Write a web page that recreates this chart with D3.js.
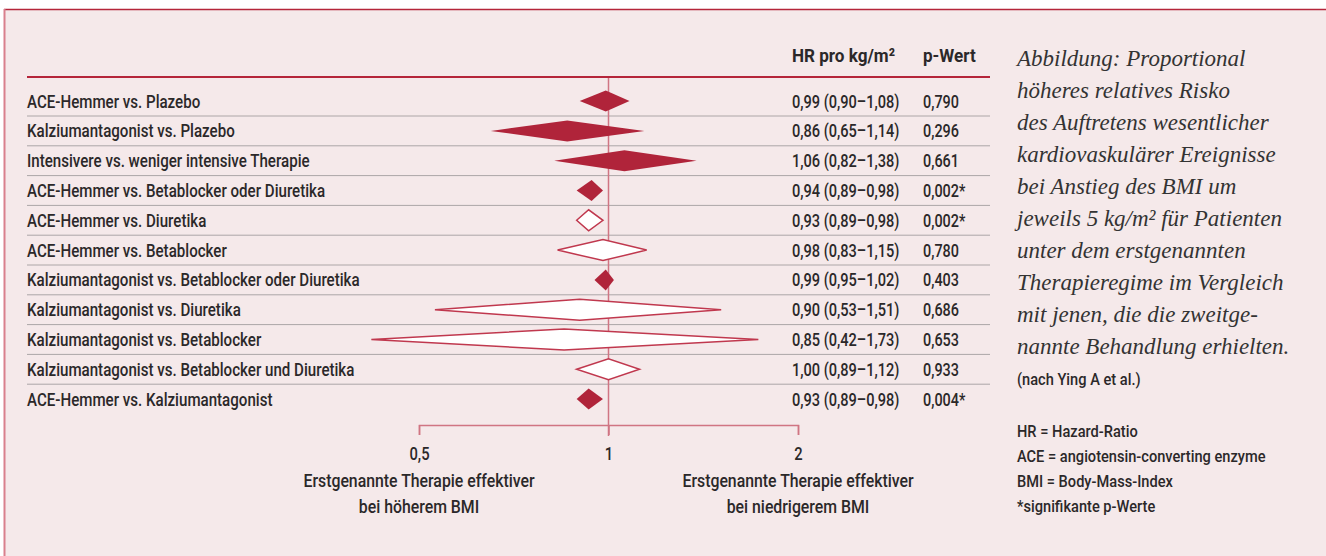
<!DOCTYPE html>
<html>
<head>
<meta charset="utf-8">
<script src="https://cdn.jsdelivr.net/npm/d3@7"></script>
<style>
  html, body { margin: 0; padding: 0; background: #fff; }
  svg { display: block; }
  .cond { font-family: "Roboto", "DejaVu Sans", sans-serif; font-weight: 500; }
  .serif { font-family: "Liberation Serif", "DejaVu Serif", serif; font-style: italic; }
</style>
</head>
<body>
<div id="app"></div>
<script>
const comparisons = [
  "ACE-Hemmer vs. Plazebo",
  "Kalziumantagonist vs. Plazebo",
  "Intensivere vs. weniger intensive Therapie",
  "ACE-Hemmer vs. Betablocker oder Diuretika",
  "ACE-Hemmer vs. Diuretika",
  "ACE-Hemmer vs. Betablocker",
  "Kalziumantagonist vs. Betablocker oder Diuretika",
  "Kalziumantagonist vs. Diuretika",
  "Kalziumantagonist vs. Betablocker",
  "Kalziumantagonist vs. Betablocker und Diuretika",
  "ACE-Hemmer vs. Kalziumantagonist"
];
const hr    = [0.99, 0.86, 1.06, 0.94, 0.93, 0.98, 0.99, 0.90, 0.85, 1.00, 0.93];
const lower = [0.90, 0.65, 0.82, 0.89, 0.89, 0.83, 0.95, 0.53, 0.42, 0.89, 0.89];
const upper = [1.08, 1.14, 1.38, 0.98, 0.98, 1.15, 1.02, 1.51, 1.73, 1.12, 0.98];
const pValues = ["0,790", "0,296", "0,661", "0,002*", "0,002*", "0,780", "0,403", "0,686", "0,653", "0,933", "0,004*"];
const filled = [true, true, true, true, false, false, true, false, false, false, true];

const axisTicks = [0.5, 1, 2];
const sideLabels = [
  { at: 0.5, lines: ["Erstgenannte Therapie effektiver", "bei höherem BMI"] },
  { at: 2, lines: ["Erstgenannte Therapie effektiver", "bei niedrigerem BMI"] }
];
const caption = [
  "Abbildung: Proportional",
  "höheres relatives Risko",
  "des Auftretens wesentlicher",
  "kardiovaskulärer Ereignisse",
  "bei Anstieg des BMI um",
  "jeweils 5 kg/m² für Patienten",
  "unter dem erstgenannten",
  "Therapieregime im Vergleich",
  "mit jenen, die die zweitge-",
  "nannte Behandlung erhielten."
];
const source = "(nach Ying A et al.)";
const notes = [
  "HR = Hazard-Ratio",
  "ACE = angiotensin-converting enzyme",
  "BMI = Body-Mass-Index",
  "*signifikante p-Werte"
];

const full = { width: 1326, height: 556 };
const red = "#b0243a", pink = "#d07583", ink = "#2b2829", bg = "#f5e9ea";

const de = d3.formatLocale({ decimal: ",", thousands: ".", grouping: [3], currency: ["", " €"] });
const fmt2 = de.format(".2f");
const fmtTick = de.format("~g");

// condensed look: squeeze the text horizontally around its own anchor
const put = (sel, fx, fy, sx) => sel
  .attr("x", 0).attr("y", 0)
  .attr("transform", (d, i) => `translate(${fx(d, i)},${fy(d, i)}) scale(${sx},1)`);

const svg = d3.select("#app").append("svg")
  .attr("width", full.width)
  .attr("height", full.height);

// frame
svg.append("rect").attr("x", 4).attr("y", 9).attr("width", full.width).attr("height", full.height).attr("fill", bg);
svg.append("line").attr("x1", 4).attr("x2", full.width).attr("y1", 9.5).attr("y2", 9.5)
  .attr("stroke", "#b5253a").attr("stroke-width", 1.5);
svg.append("line").attr("x1", 4.5).attr("x2", 4.5).attr("y1", 9).attr("y2", full.height)
  .attr("stroke", "#d9808d").attr("stroke-width", 2);

const x = d3.scaleLog().base(2).domain([0.5, 2]).range([419, 798]);
const y = d3.scaleBand().domain(d3.range(comparisons.length)).range([86.2, 86.2 + 29.8 * comparisons.length]);

const tableLeft = 27, tableRight = 990, hrCol = 792, pCol = 923;

// header
const head = svg.append("g").attr("class", "cond").attr("font-size", 19).attr("fill", ink).style("font-weight", "bold");
put(head.append("text").text("HR pro kg/m²"), () => hrCol, () => 62, 0.9);
put(head.append("text").text("p-Wert"), () => pCol, () => 62, 0.9);
svg.append("line").attr("x1", tableLeft).attr("x2", tableRight).attr("y1", 77).attr("y2", 77)
  .attr("stroke", "#b5253a").attr("stroke-width", 2.2);

// row separators
svg.append("g").selectAll("line")
  .data(d3.range(comparisons.length - 1))
  .join("line")
  .attr("x1", tableLeft).attr("x2", tableRight)
  .attr("y1", i => y(i) + y.bandwidth()).attr("y2", i => y(i) + y.bandwidth())
  .attr("stroke", "#aca6a7").attr("stroke-width", 1);

// reference line at HR = 1
svg.append("line").attr("x1", x(1)).attr("x2", x(1)).attr("y1", 78).attr("y2", 436)
  .attr("stroke", pink).attr("stroke-width", 1.5);

// diamonds
const rows = comparisons.map((c, i) => ({ c, i, hr: hr[i], lo: lower[i], hi: upper[i], p: pValues[i], filled: filled[i] }));
const half = 10.5;
svg.append("g").selectAll("path")
  .data(rows)
  .join("path")
  .attr("d", d => {
    const cy = y(d.i) + y.bandwidth() / 2;
    return `M${x(d.lo)},${cy}L${x(d.hr)},${cy - half}L${x(d.hi)},${cy}L${x(d.hr)},${cy + half}Z`;
  })
  .attr("fill", d => d.filled ? red : "#fff")
  .attr("stroke", d => d.filled ? "none" : "#c0384e")
  .attr("stroke-width", 1.5);

// row texts
const rowY = d => y(d.i) + y.bandwidth() / 2 + 6.5;
const rowText = svg.append("g").attr("class", "cond").attr("font-size", 18).attr("fill", ink);
put(rowText.selectAll(".lab").data(rows).join("text").attr("class", "lab").text(d => d.c), () => tableLeft, rowY, 0.84);
put(rowText.selectAll(".hr").data(rows).join("text").attr("class", "hr")
  .text(d => `${fmt2(d.hr)} (${fmt2(d.lo)}–${fmt2(d.hi)})`), () => hrCol, rowY, 0.81);
put(rowText.selectAll(".pv").data(rows).join("text").attr("class", "pv").text(d => d.p), () => pCol, rowY, 0.8);

// axis
const axisY = 425;
const axis = svg.append("g").attr("transform", `translate(0,${axisY})`)
  .call(d3.axisBottom(x).tickValues(axisTicks).tickFormat(fmtTick).tickSizeInner(10).tickSizeOuter(10));
axis.select(".domain").attr("stroke", pink).attr("stroke-width", 1.5);
axis.selectAll(".tick line").attr("stroke", pink).attr("stroke-width", 1.5);
put(axis.selectAll(".tick text")
  .attr("class", "cond").attr("font-size", 18).attr("fill", ink).attr("dy", 0), () => 0, () => 35, 0.82);

const side = svg.append("g").attr("class", "cond").attr("font-size", 18).attr("fill", ink).attr("text-anchor", "middle");
sideLabels.forEach(s => {
  s.lines.forEach((l, k) => {
    put(side.append("text").text(l), () => x(s.at), () => 487 + k * 26, 0.88);
  });
});

// caption
const cap = svg.append("g").attr("class", "serif").attr("font-size", 23).attr("fill", "#333");
cap.selectAll("text").data(caption).join("text")
  .attr("x", 1017).attr("y", (d, i) => 66 + i * 32)
  .text(d => d);

const foot = svg.append("g").attr("class", "cond").attr("font-size", 17).attr("fill", ink);
put(foot.append("text").text(source), () => 1017, () => 385, 0.86);
put(foot.selectAll(".note").data(notes).join("text").attr("class", "note").text(d => d),
  () => 1017, (d, i) => 437 + i * 25, 0.86);
</script>
</body>
</html>
